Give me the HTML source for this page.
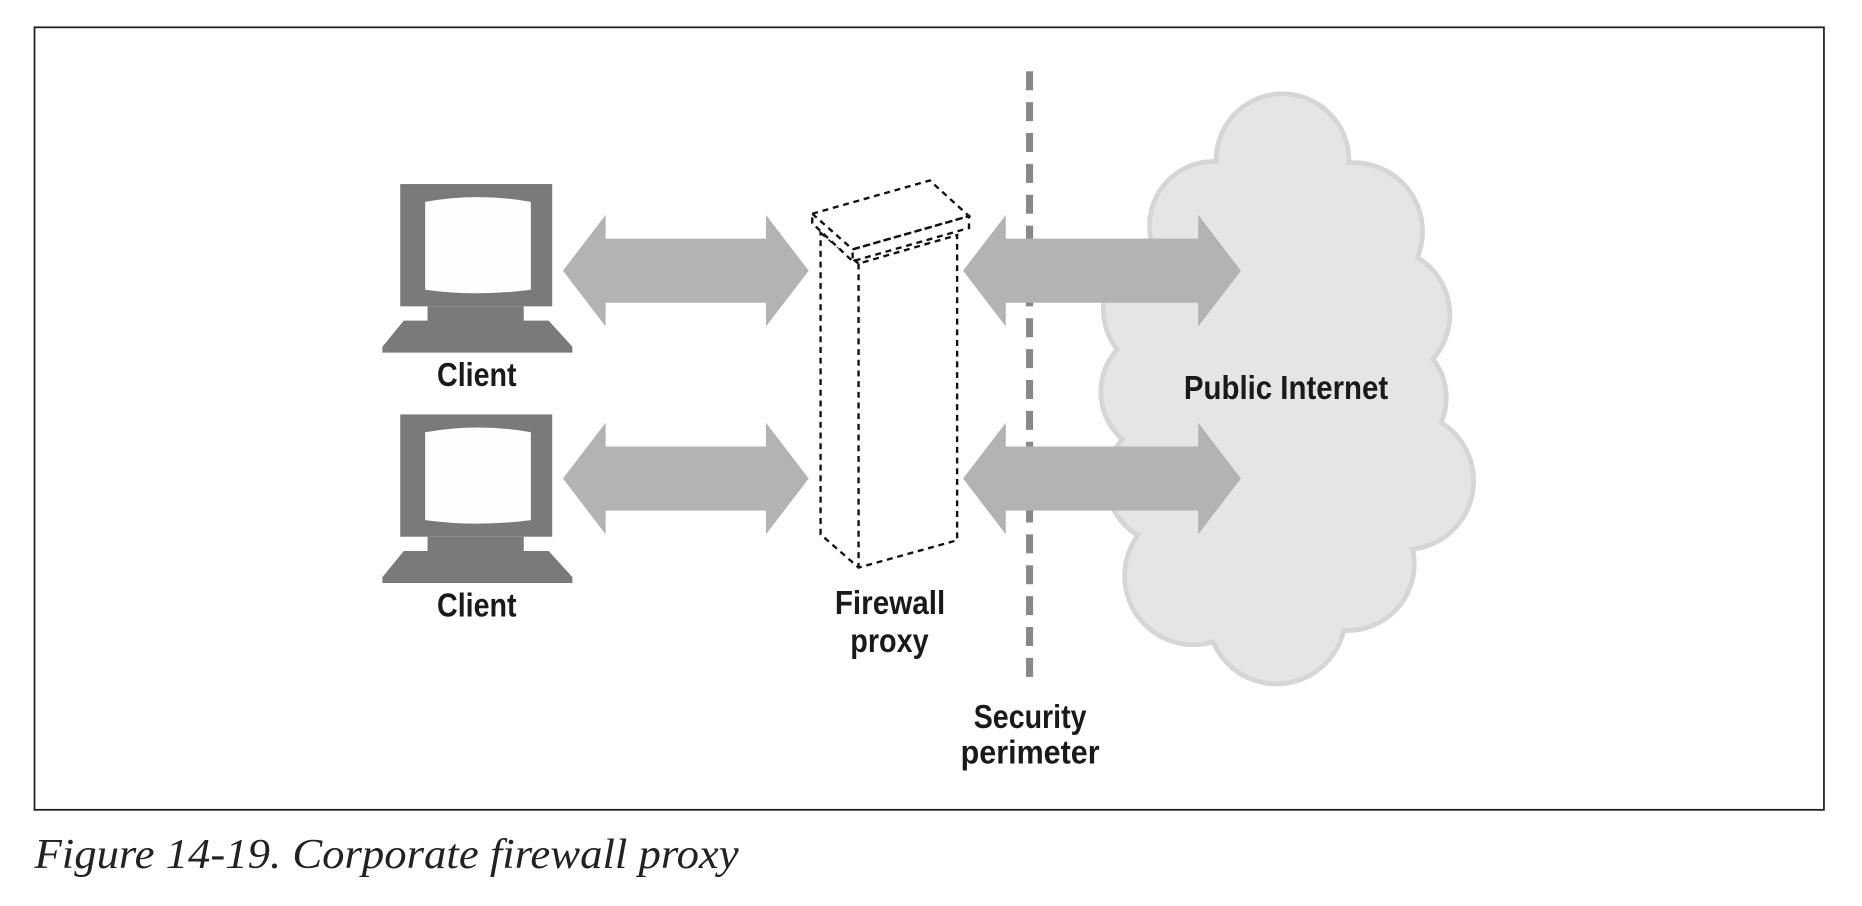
<!DOCTYPE html>
<html><head><style>
html,body{margin:0;padding:0;background:#fff;}
svg{display:block}
</style></head><body>
<svg width="1862" height="906" viewBox="0 0 1568 763" xmlns="http://www.w3.org/2000/svg">
<rect x="29" y="23" width="1507" height="659" fill="#fff" stroke="#222" stroke-width="1.5"/>
<!-- cloud -->
<g fill="#d6d6d6">
<circle cx="1080" cy="135" r="58"/><circle cx="1140" cy="195" r="60"/><circle cx="1165" cy="265" r="58"/>
<circle cx="1165" cy="335" r="55"/><circle cx="1183" cy="405" r="60"/><circle cx="1135" cy="475" r="58"/>
<circle cx="1075" cy="518" r="60"/><circle cx="1005" cy="485" r="60"/><circle cx="985" cy="405" r="55"/>
<circle cx="980" cy="330" r="55"/><circle cx="985" cy="260" r="58"/><circle cx="1022" cy="190" r="56"/>
<rect x="990" y="170" width="180" height="330"/></g>
<g fill="#e5e5e5">
<circle cx="1080" cy="135" r="54"/><circle cx="1140" cy="195" r="56"/><circle cx="1165" cy="265" r="54"/>
<circle cx="1165" cy="335" r="51"/><circle cx="1183" cy="405" r="56"/><circle cx="1135" cy="475" r="54"/>
<circle cx="1075" cy="518" r="56"/><circle cx="1005" cy="485" r="56"/><circle cx="985" cy="405" r="51"/>
<circle cx="980" cy="330" r="51"/><circle cx="985" cy="260" r="54"/><circle cx="1022" cy="190" r="52"/>
<rect x="990" y="170" width="180" height="330"/></g>
<!-- security line -->
<line x1="867" y1="60" x2="867" y2="578" stroke="#888" stroke-width="6" stroke-dasharray="16 10"/>
<!-- arrows -->
<g fill="#b3b3b3">
<polygon points="474,228 510,181 510,201 645,201 645,181 681,228 645,275 645,255 510,255 510,275"/>
<polygon points="474,403 510,356 510,376 645,376 645,356 681,403 645,450 645,430 510,430 510,450"/>
<polygon points="811,228 847,181 847,201 1009,201 1009,181 1045,228 1009,275 1009,255 847,255 847,275"/>
<polygon points="811,403 847,356 847,376 1009,376 1009,356 1045,403 1009,450 1009,430 847,430 847,450"/>
</g>
<!-- firewall -->
<g fill="#fff" stroke="#111" stroke-width="2" stroke-dasharray="5 4">
<polygon points="691,196 723,222 806,198 806,455 723,478 691,450"/>
<polygon points="684,180 783,152 816,182 718,210 718,220 684,188"/>
<polyline points="718,210 816,182 816,192 718,220" fill="none"/>
<line x1="684" y1="180" x2="718" y2="210"/>
<line x1="723" y1="222" x2="723" y2="478"/>
</g>
<!-- clients -->
<g id="c1">
<rect x="337" y="155" width="128" height="103" fill="#7a7a7a"/>
<path d="M358,170 Q402,162 447,170 L447,244 Q402,250 358,244 Z" fill="#fefefe"/>
<rect x="360" y="258" width="81" height="8" fill="#7a7a7a"/>
<polygon points="340,270 360,270 360,264 441,264 441,270 462,270 482,292 482,297 322,297 322,292" fill="#7a7a7a"/>
</g>
<use href="#c1" y="194"/>
<g font-family="'Liberation Sans Narrow','Liberation Sans',sans-serif" font-weight="bold" font-size="28" fill="#1a1a1a" lengthAdjust="spacingAndGlyphs">
<text x="368" y="325" textLength="67" lengthAdjust="spacingAndGlyphs">Client</text>
<text x="368" y="519" textLength="67" lengthAdjust="spacingAndGlyphs">Client</text>
<text x="703" y="517" textLength="93" lengthAdjust="spacingAndGlyphs">Firewall</text>
<text x="716" y="549" textLength="66" lengthAdjust="spacingAndGlyphs">proxy</text>
<text x="820" y="613" textLength="95" lengthAdjust="spacingAndGlyphs">Security</text>
<text x="809" y="643" textLength="117" lengthAdjust="spacingAndGlyphs">perimeter</text>
<text x="997" y="336" textLength="172" lengthAdjust="spacingAndGlyphs">Public Internet</text>
</g>
<text x="29" y="731" font-family="'Liberation Serif',serif" font-style="italic" font-size="36" fill="#222" textLength="593" lengthAdjust="spacingAndGlyphs">Figure 14-19. Corporate firewall proxy</text>
</svg>
</body></html>
